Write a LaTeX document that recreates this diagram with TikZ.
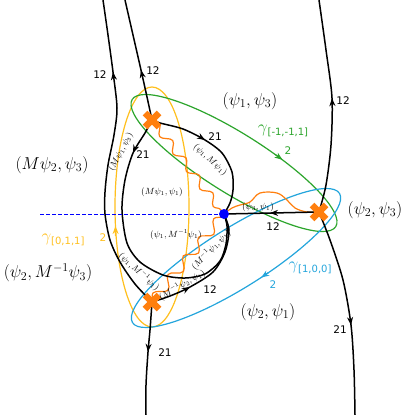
\documentclass[tikz,border=0pt]{standalone}
\usepackage{fontspec}
\newfontfamily\dvs{DejaVu Sans}
\usetikzlibrary{arrows.meta,decorations.pathmorphing,decorations.markings}
\definecolor{cOr}{RGB}{255,127,14}
\definecolor{cYe}{RGB}{255,192,30}
\definecolor{cGr}{RGB}{44,165,44}
\definecolor{cCy}{RGB}{35,165,220}
\definecolor{cBl}{RGB}{0,0,255}
\tikzset{
 wall/.style={line width=1.5pt, black},
 ell/.style={line width=1.2pt},
 cut/.style={line width=1.2pt, cOr},
 fwdarrow/.style={postaction={decorate, decoration={markings, mark=at position #1 with {\arrow{Stealth[length=8pt,width=6pt]}}}}},
 bwdarrow/.style={postaction={decorate, decoration={markings, mark=at position #1 with {\arrowreversed{Stealth[length=8pt,width=6pt]}}}}},
 ellarrow/.style={-{Stealth[length=8pt,width=6pt]}, line width=1.2pt},
 lbl/.style={inner sep=0pt, outer sep=0pt},
 num/.style={lbl, font=\dvs\fontsize{10.5}{12}\selectfont},
 big/.style={lbl, font=\fontsize{17}{20}\selectfont},
 sml/.style={lbl, font=\fontsize{9}{10}\selectfont},
 rot/.style={lbl, font=\fontsize{9}{10}\selectfont},
 bpt/.style={line width=6.5pt, cOr},
}
\begin{document}
\begin{tikzpicture}[x=1pt,y=-1pt]
\useasboundingbox (0,0) rectangle (415,415);
\fill[white] (0,0) rectangle (415,415);

% key points
\coordinate (A) at (152,120);
\coordinate (B) at (319,212);
\coordinate (C) at (152,302);
\coordinate (D) at (224,214);
\coordinate (T1) at (103,0);
\coordinate (T2) at (125,0);
\coordinate (T3) at (319,0);
\coordinate (E1) at (146,415);
\coordinate (E2) at (355,415);
\coordinate (L) at (40,214);

% ellipses
\draw[ell, cYe] (152,207) ellipse[x radius=37, y radius=120];
\begin{scope}[shift={(234,163)}, rotate=-32]
 \draw[ell, cGr] (0,0) ellipse[x radius=120, y radius=30];
\end{scope}
\begin{scope}[shift={(236,258)}, rotate=32]
 \draw[ell, cCy] (0,0) ellipse[x radius=122, y radius=30];
\end{scope}
\draw[ellarrow, cYe] (115.6,236) -- (115.5,226);
\draw[ellarrow, cGr] (275.7,154.8) -- (282.5,159.8);
\draw[ellarrow, cCy] (268.5,272.6) -- (261.2,277.5);

% branch cuts
\draw[cut, decorate, decoration={snake, amplitude=4pt, segment length=22pt}] (A) -- (D);
\draw[cut, decorate, decoration={snake, amplitude=5pt, segment length=24pt}] (C) -- (D);
\draw[cut] plot[smooth, tension=0.6] coordinates {(D) (232,208) (240,205) (250,202) (260,193) (277,193) (287,200) (295,208) (307,212) (B)};

% walls
\draw[wall, bwdarrow=72.7pt] plot[smooth] coordinates {(T1) (108,35) (113,72) (117,108) (114,135) (108,165) (105,192) (105,214) (110,240) (120,262) (135,284) (C)};
\draw[wall, bwdarrow=71.8pt] plot[smooth] coordinates {(T2) (133,35) (141,70) (147,97) (A)};
\draw[wall, fwdarrow=57pt] plot[smooth] coordinates {(A) (160,123) (183,129) (205,140) (222,153) (232,172) (233,190) (230,203) (D)};
\draw[wall, fwdarrow=38pt] plot[smooth] coordinates {(A) (145,133) (133,153) (125,180) (122,210) (127,243) (140,262) (163,275) (185,278) (205,274) (220,261) (226,244) (227,226) (D)};
\draw[wall, fwdarrow=41pt] plot[smooth] coordinates {(C) (170,296) (190,287) (213,272) (225,252) (229,230) (D)};
\draw[wall, fwdarrow=49pt] (B) -- (D);
\draw[wall, bwdarrow=99pt] plot[smooth] coordinates {(T3) (326,50) (332,98) (331,145) (326,185) (B)};
\draw[wall, fwdarrow=118pt] plot[smooth] coordinates {(B) (330,240) (343,280) (351,325) (354,370) (E2)};
\draw[wall, fwdarrow=50pt] plot[smooth] coordinates {(C) (150,330) (148,352) (146,385) (E1)};

% dashed line
\draw[cBl, line width=1pt, dash pattern=on 4pt off 2pt] (L) -- (D);

% branch points
\foreach \p in {A,B,C}
 \draw[bpt] ([shift={(-7,-7)}]\p) -- ([shift={(7,7)}]\p) ([shift={(-7,7)}]\p) -- ([shift={(7,-7)}]\p);
\fill[cBl] (D) circle[radius=5];

% region labels
\node[big] (r1) at (250,101) {$(\psi_1,\psi_3)$};
\node[big] (r2) at (52,165) {$(M\psi_2,\psi_3)$};
\node[big] (r3) at (48,273) {$(\psi_2,M^{-1}\psi_3)$};
\node[big] (r4) at (375,210) {$(\psi_2,\psi_3)$};
\node[big] (r5) at (268,312) {$(\psi_2,\psi_1)$};
\node[sml] (r6) at (162,192) {$(M\psi_1,\psi_1)$};
\node[sml] (r7) at (176,235) {$(\psi_1,M^{-1}\psi_1)$};

% wall labels
\node[rot, rotate=62] (w1) at (121,152) {$(M\psi_1,\psi_3)$};
\node[rot, rotate=-42] (w2) at (210,160) {$(\psi_1,M\psi_1)$};
\node[rot, rotate=-42] (w3) at (139,272) {$(\psi_1,M^{-1}\psi_1)$};
\node[rot, rotate=30] (w4) at (182,285) {$(M^{-1}\psi_2,\psi_1)$};
\node[rot, rotate=46] (w5) at (211,250) {$(M^{-1}\psi_1,\psi_1)$};
\node[sml] (w6) at (258,207) {$(\psi_3,\psi_1)$};

% numbers
\node[num] (n1) at (100,75) {12};
\node[num] (n2) at (153,71) {12};
\node[num] (n3) at (343,101) {12};
\node[num] (n4) at (143,155) {21};
\node[num] (n5) at (215,137) {21};
\node[num] (n6) at (210,290) {12};
\node[num] (n7) at (273,227) {12};
\node[num] (n8) at (340,330) {21};
\node[num] (n9) at (165,353) {21};

% gamma labels
\node[lbl, text=cYe] (g1) at (63,240) {\fontsize{16}{16}\selectfont$\gamma$\raisebox{-3.5pt}{\dvs\fontsize{10}{10}\selectfont[0,1,1]}};
\node[num, text=cYe] (g1n) at (103,238) {2};
\node[lbl, text=cGr] (g2) at (283,131) {\fontsize{16}{16}\selectfont$\gamma$\raisebox{-3.5pt}{\dvs\fontsize{10}{10}\selectfont[-1,-1,1]}};
\node[num, text=cGr] (g2n) at (288,151) {2};
\node[lbl, text=cCy] (g3) at (310,268) {\fontsize{16}{16}\selectfont$\gamma$\raisebox{-3.5pt}{\dvs\fontsize{10}{10}\selectfont[1,0,0]}};
\node[num, text=cCy] (g3n) at (273,285) {2};
\end{tikzpicture}
\end{document}
